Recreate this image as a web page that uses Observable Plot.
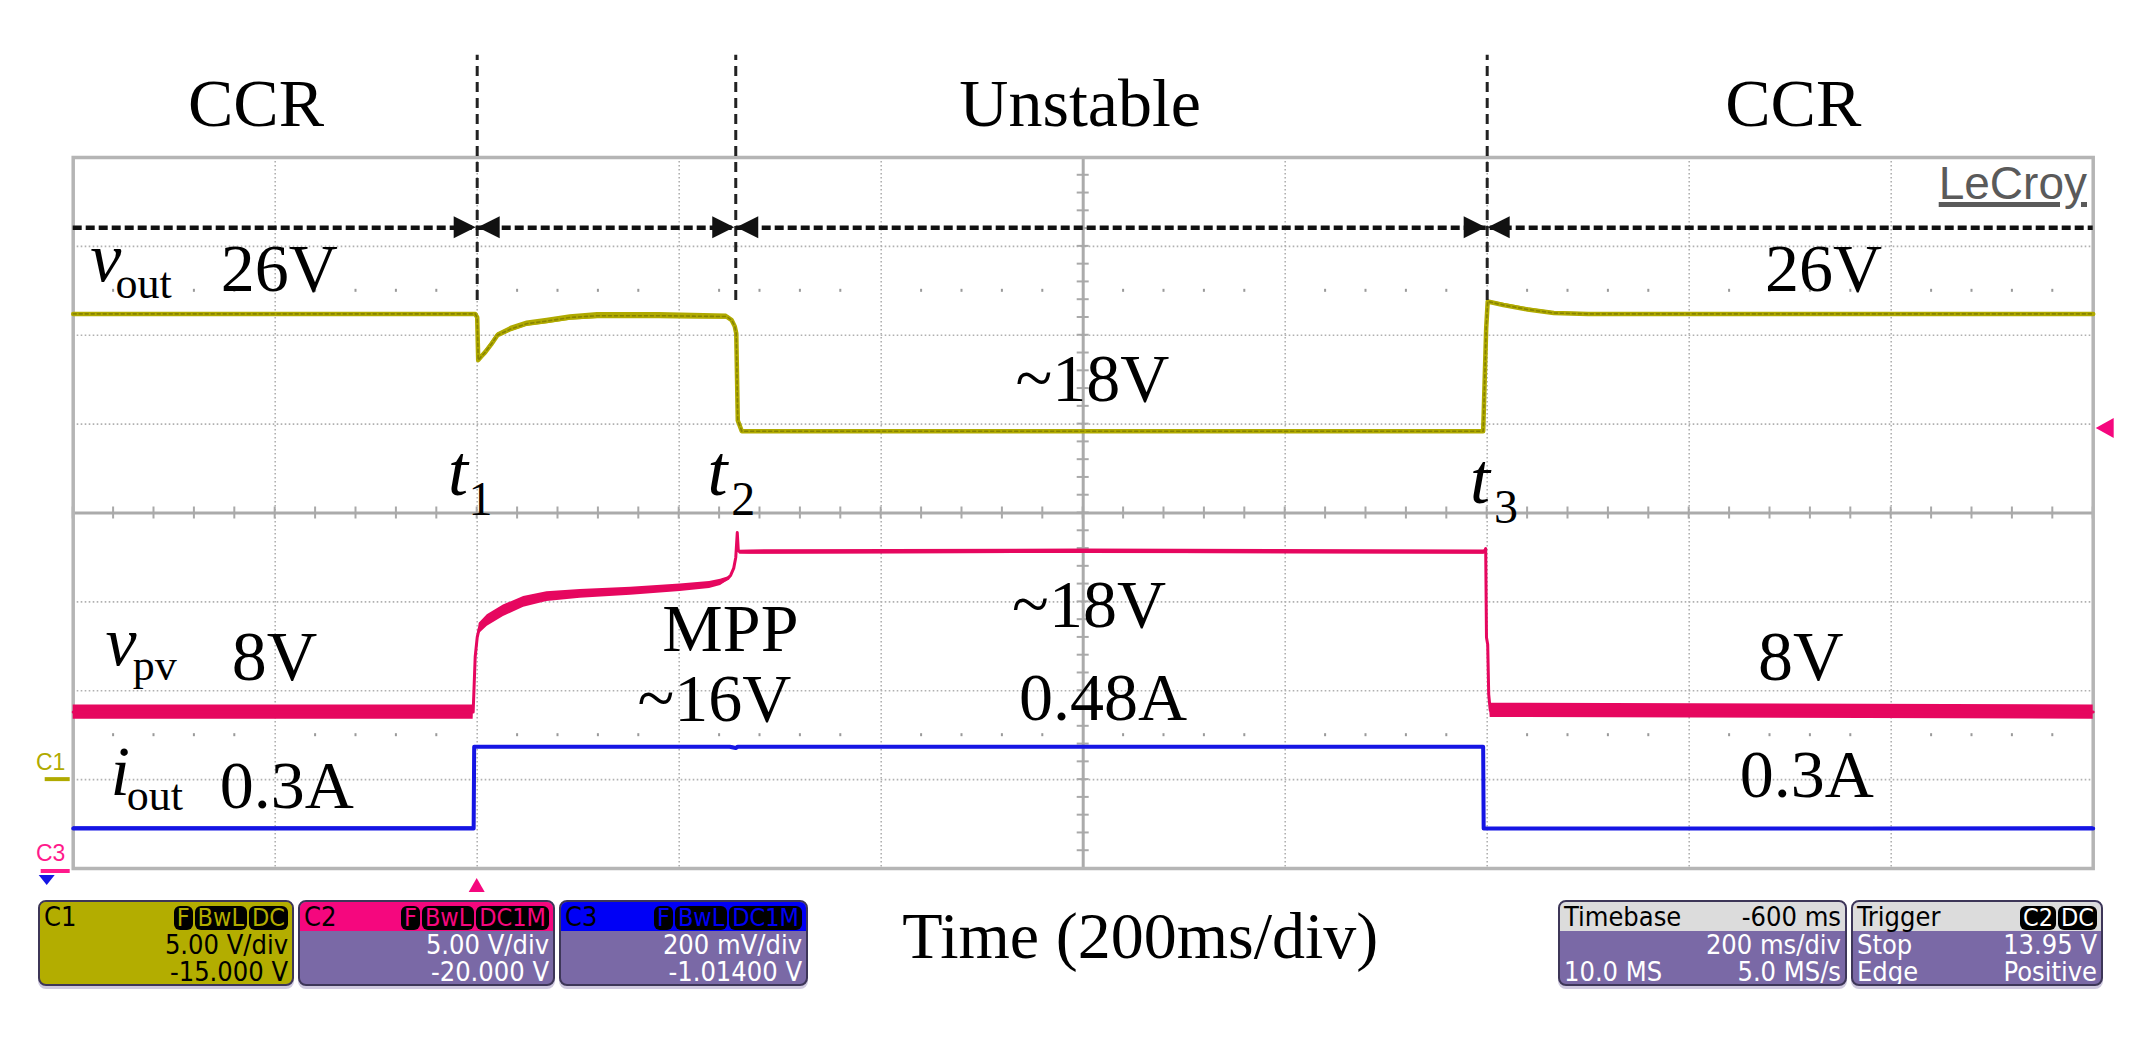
<!DOCTYPE html>
<html><head><meta charset="utf-8">
<script src="https://cdn.jsdelivr.net/npm/d3@7"></script>
<script src="https://cdn.jsdelivr.net/npm/@observablehq/plot@0.6"></script>
<style>
html,body{margin:0;padding:0;background:#fff;}
#wrap{position:relative;width:2147px;height:1047px;overflow:hidden;background:#fff;}
#wrap svg{position:absolute;left:0;top:0;}
.box{position:absolute;top:900px;height:86px;border-radius:8px;border:2px solid #3d3658;box-sizing:border-box;overflow:hidden;
 font-family:"Liberation Sans Narrow","Arial Narrow","DejaVu Sans Condensed",sans-serif;font-size:27px;line-height:27px;background:#7a69a6;color:#fff;box-shadow:0 3px 0 #cfc9df;}
.hdr{height:29px;padding:0 4px;display:flex;justify-content:space-between;align-items:center;color:#000;}
.row{height:27px;padding:0 4px;display:flex;justify-content:space-between;align-items:center;}
.badge{background:#000;border-radius:6px;padding:0 3px;margin-left:2px;line-height:24px;font-size:25px;display:inline-block;}
#lecroy{position:absolute;right:60px;top:156px;font-family:"Liberation Sans Narrow","Liberation Sans",sans-serif;font-size:46px;color:#5a5a5a;
 text-decoration:underline;text-decoration-thickness:5px;text-underline-offset:3px;}
</style></head>
<body><div id="wrap"></div>
<script>
// ---------------- channel settings ----------------
const chanName = ["C1", "C2", "C3"];
const chanColor = ["#b0aa00", "#e6075f", "#1515e4"];
const chanHeader = ["#b3ad00", "#f5077e", "#0000f6"];
const chanVPerDiv = [5, 5, 0.2];
const chanOffsetV = [-15, -20, -1.014];
const chanScaleText = ["5.00 V/div", "5.00 V/div", "200 mV/div"];
const chanOffsetText = ["-15.000 V", "-20.000 V", "-1.01400 V"];
const chanBadges = [["F", "BwL", "DC"], ["F", "BwL", "DC1M"], ["F", "BwL", "DC1M"]];
const timebaseText = ["Timebase", "-600 ms", "200 ms/div", "10.0 MS", "5.0 MS/s"];
const triggerText = ["Trigger", "Stop", "13.95 V", "Edge", "Positive"];
const triggerBadges = ["C2", "DC"];

// ---------------- time axis (ms relative to trigger) ----------------
const timeDomain = [-400, 1600];
const msPerDiv = 200;
const eventT = [0, 256, 1000];
const eventName = ["1", "2", "3"];
const regionName = ["CCR", "Unstable", "CCR"];

// ---------------- traces ----------------
// C1: v_out (V)
const voutT = [-400, -2, 0, 1, 4, 8, 14, 20, 33, 49, 69, 92, 119, 180, 247, 252, 255, 256.5, 258, 262, 600, 996, 996.5, 999, 1000.5, 1016, 1040, 1066, 1100, 1600];
const voutV = [26.2, 26.2, 26.0, 23.6, 23.8, 24.05, 24.5, 25.0, 25.35, 25.65, 25.8, 26.0, 26.1, 26.1, 26.05, 25.85, 25.5, 25.1, 20.2, 19.6, 19.6, 19.6, 20.5, 25.4, 26.9, 26.7, 26.45, 26.25, 26.2, 26.2];
const voutN = [0.12, 0.12, 0, 0.1, 0.2, 0.25, 0.25, 0.25, 0.3, 0.3, 0.3, 0.3, 0.35, 0.35, 0.3, 0.1, 0, 0, 0, 0.12, 0.12, 0.12, 0, 0, 0.15, 0.2, 0.2, 0.15, 0.12, 0.12];
// C2: v_pv (V)
const vpvT = [-400, -4, -2, 0, 2, 10, 26, 46, 69, 102, 152, 201, 230, 241, 248, 251, 254, 256, 257.5, 258.5, 260, 270, 600, 997, 998.5, 999.3, 1000.5, 1001.5, 1003, 1600];
const vpvV = [8.8, 8.8, 11.9, 13.0, 13.5, 13.95, 14.5, 15.0, 15.3, 15.45, 15.6, 15.8, 15.95, 16.1, 16.3, 16.5, 16.9, 17.5, 18.9, 17.9, 17.8, 17.8, 17.85, 17.8, 18.0, 13.0, 12.6, 9.8, 8.9, 8.8];
const vpvN = [0.8, 0.8, 0, 0, 0.6, 0.65, 0.65, 0.6, 0.55, 0.5, 0.45, 0.42, 0.4, 0.35, 0.2, 0, 0, 0, 0, 0, 0.22, 0.25, 0.25, 0.25, 0, 0, 0, 0, 0.8, 0.8];
// C3: i_out (A)
const ioutT = [-400, -3.5, -3, 250, 256, 258, 996, 996.5, 1600];
const ioutA = [0.304, 0.304, 0.488, 0.488, 0.485, 0.488, 0.488, 0.304, 0.304];
const ioutN = [0.008, 0.008, 0, 0.006, 0.006, 0.006, 0.006, 0, 0.008];

// ---------------- graticule / markers ----------------
const gridT = d3.range(-400, 1601, msPerDiv);
const gridD = d3.range(-4, 4.01, 1);
const minorT = d3.range(-400, 1600.1, msPerDiv / 5);
const minorD = d3.range(-4, 4.001, 0.2);
const dotRowsD = [2.5, -2.5];
const arrowRowDiv = 3.21;          // dashed double-arrow row (div)
const eventLineSpanDiv = [2.39, 5.15];
const rightMarkerDiv = [0.95];

// ---------------- annotations (label, t ms, div, anchor, size, italic) ----------------
const annotations = [
  ["CCR", -219, 4.36, "middle", 68, 0],
  ["Unstable", 597, 4.35, "middle", 68, 0],
  ["CCR", 1303, 4.35, "middle", 68, 0],
  ["v", -383, 2.615, "start", 70, 1],
  ["out", -358, 2.42, "start", 44, 0],
  ["26V", -254, 2.50, "start", 68, 0],
  ["t", -29, 0.197, "start", 72, 1],
  ["1", -8.6, -0.017, "start", 48, 0],
  ["t", 228, 0.197, "start", 72, 1],
  ["2", 251.6, -0.017, "start", 48, 0],
  ["t", 983, 0.118, "start", 72, 1],
  ["3", 1006.8, -0.107, "start", 48, 0],
  ["~18V", 533, 1.265, "start", 68, 0],
  ["v", -368, -1.715, "start", 70, 1],
  ["pv", -341, -1.884, "start", 44, 0],
  ["8V", -243, -1.884, "start", 70, 0],
  ["i", -363, -3.178, "start", 70, 1],
  ["out", -347, -3.347, "start", 44, 0],
  ["0.3A", -255, -3.324, "start", 68, 0],
  ["MPP", 250.7, -1.55, "middle", 68, 0],
  ["~16V", 234.8, -2.345, "middle", 68, 0],
  ["~18V", 682, -1.288, "end", 68, 0],
  ["0.48A", 703, -2.334, "end", 68, 0],
  ["26V", 1275, 2.503, "start", 68, 0],
  ["8V", 1268, -1.884, "start", 70, 0],
  ["0.3A", 1250, -3.2, "start", 68, 0],
  ["Time (200ms/div)", 656.5, -5.011, "middle", 66, 0]
];

const serif = "'Liberation Serif','Times New Roman',serif";
const toDiv = (v, ch) => (v + chanOffsetV[ch]) / chanVPerDiv[ch];
const rows = (T, V, N, ch) => T.map((t, i) => ({t, d: toDiv(V[i], ch), lo: toDiv(V[i] - N[i] / 2, ch), hi: toDiv(V[i] + N[i] / 2, ch)}));
const traces = [rows(voutT, voutV, voutN, 0), rows(vpvT, vpvV, vpvN, 1), rows(ioutT, ioutA, ioutN, 2)];
const traceWidth = [4.5, 3, 4];

function graticuleTicks(index, scales) {
  const g = d3.create("svg:g").attr("stroke", "#a9a9a9").attr("stroke-width", 2);
  const xc = scales.x(600), yc = scales.y(0);
  for (const t of minorT) {
    const x = scales.x(t);
    g.append("line").attr("x1", x).attr("x2", x).attr("y1", yc - 6).attr("y2", yc + 6);
  }
  for (const d of minorD) {
    const y = scales.y(d);
    g.append("line").attr("x1", xc - 6).attr("x2", xc + 6).attr("y1", y).attr("y2", y);
  }
  const dots = d3.create("svg:g").attr("fill", "#9a9a9a").attr("stroke", "none");
  for (const d of dotRowsD) for (const t of minorT) {
    if (Math.abs(((t + 400) / msPerDiv) - Math.round((t + 400) / msPerDiv)) < 1e-6) continue;
    dots.append("rect").attr("x", scales.x(t) - 1).attr("y", scales.y(d) - 1.5).attr("width", 2).attr("height", 3);
  }
  g.node().appendChild(dots.node());
  return g.node();
}

function arrowHeads(index, scales) {
  const g = d3.create("svg:g").attr("fill", "#111");
  const y = scales.y(arrowRowDiv);
  for (const b of eventT) {
    const x = scales.x(b);
    g.append("path").attr("d", `M${x - 1},${y}l-22,-11v22z`);
    g.append("path").attr("d", `M${x + 1},${y}l22,-11v22z`);
  }
  return g.node();
}

function sideMarkers(index, scales, values, dim) {
  const g = d3.create("svg:g");
  const xl = dim.marginLeft, xr = dim.width - dim.marginRight, yb = dim.height - dim.marginBottom;
  const y1 = scales.y(toDiv(0, 0));
  g.append("line").attr("x1", xl - 28).attr("x2", xl - 3).attr("y1", y1).attr("y2", y1).attr("stroke", chanColor[0]).attr("stroke-width", 4);
  g.append("text").attr("x", xl - 22).attr("y", y1 - 9).attr("text-anchor", "middle").attr("fill", chanColor[0])
    .attr("font-family", "'Liberation Sans Narrow','Liberation Sans',sans-serif").attr("font-size", 23).text("C1");
  const y2 = Math.min(scales.y(toDiv(0, 1)), yb) + 3;
  g.append("text").attr("x", xl - 22).attr("y", y2 - 10).attr("text-anchor", "middle").attr("fill", "#ff1a8c")
    .attr("font-family", "'Liberation Sans Narrow','Liberation Sans',sans-serif").attr("font-size", 23).text("C3");
  g.append("path").attr("d", `M${xl - 34},${y2 + 4}l8,10l8,-10z`).attr("fill", chanColor[2]);
  g.append("line").attr("x1", xl - 32).attr("x2", xl - 3).attr("y1", y2).attr("y2", y2).attr("stroke", "#ff1a8c").attr("stroke-width", 4);
  const xt = scales.x(0);
  g.append("path").attr("d", `M${xt},${yb + 10}l-8,14h16z`).attr("fill", "#f5077e");
  for (const d of rightMarkerDiv) {
    const y = scales.y(d);
    g.append("path").attr("d", `M${xr + 3},${y}l18,-10v20z`).attr("fill", "#f5077e");
  }
  return g.node();
}

const marks = [
  Plot.ruleX(gridT.slice(1, -1).filter(t => t !== 600), {stroke: "#b0b0b0", strokeWidth: 1.6, strokeDasharray: "1.6,2.4"}),
  Plot.ruleY(gridD.slice(1, -1).filter(d => d !== 0), {stroke: "#b0b0b0", strokeWidth: 1.6, strokeDasharray: "1.6,2.4"}),
  Plot.ruleX([600], {stroke: "#ababab", strokeWidth: 3}),
  Plot.ruleY([0], {stroke: "#ababab", strokeWidth: 3}),
  graticuleTicks,
  Plot.frame({stroke: "#b5b5b5", strokeWidth: 3.5}),
];
traces.forEach((tr, ch) => {
  marks.push(Plot.areaY(tr, {x: "t", y1: "lo", y2: "hi", fill: chanColor[ch], curve: "linear"}));
  marks.push(Plot.line(tr, {x: "t", y: "d", stroke: chanColor[ch], strokeWidth: traceWidth[ch], curve: "linear"}));
});
// darker sample texture along the C1 trace, as the scope draws it
marks.push(Plot.line(traces[0], {x: "t", y: "d", stroke: "#7a7600", strokeWidth: 1.6, strokeDasharray: "3,3", strokeOpacity: 0.75}));
marks.push(
  Plot.ruleX(eventT, {y1: eventLineSpanDiv[0], y2: eventLineSpanDiv[1], stroke: "#222", strokeWidth: 3, strokeDasharray: "10,6"}),
  Plot.ruleY([arrowRowDiv], {x1: timeDomain[0], x2: timeDomain[1], stroke: "#111", strokeWidth: 4.5, strokeDasharray: "9,4"}),
  arrowHeads,
  sideMarkers
);
for (const [s, t, d, anchor, size, it] of annotations) {
  marks.push(Plot.text([{t, d, s}], {x: "t", y: "d", text: "s", textAnchor: anchor, lineAnchor: "bottom",
    fontSize: size, fontFamily: serif, fontStyle: it ? "italic" : "normal", fill: "#000"}));
}

const chart = Plot.plot({
  width: 2147, height: 1047,
  marginLeft: 72.7, marginRight: 54.3, marginTop: 157, marginBottom: 179,
  x: {domain: timeDomain, axis: null},
  y: {domain: [-4, 4], axis: null},
  style: {background: "white", overflow: "visible"},
  marks
});
const wrap = document.getElementById("wrap");
wrap.appendChild(chart);

// ---------------- LeCroy logo and info boxes (HTML) ----------------
const lc = document.createElement("div"); lc.id = "lecroy"; lc.textContent = "LeCroy"; wrap.appendChild(lc);

function badgeHTML(list, color) {
  return list.map(b => `<span class="badge" style="color:${color}">${b}</span>`).join("");
}
const boxLeft = [38, 298, 559];
const boxWidth = [256, 257, 249];
chanName.forEach((n, i) => {
  const b = document.createElement("div");
  b.className = "box";
  b.style.left = boxLeft[i] + "px"; b.style.width = boxWidth[i] + "px";
  if (i === 0) { b.style.background = chanHeader[0]; b.style.color = "#000"; }
  b.innerHTML = `<div class="hdr" style="background:${chanHeader[i]}"><span>${n}</span><span>${badgeHTML(chanBadges[i], chanHeader[i])}</span></div>
   <div class="row"><span></span><span>${chanScaleText[i]}</span></div>
   <div class="row"><span></span><span>${chanOffsetText[i]}</span></div>`;
  wrap.appendChild(b);
});
const tb = document.createElement("div");
tb.className = "box"; tb.style.left = "1558px"; tb.style.width = "289px";
tb.innerHTML = `<div class="hdr" style="background:#dcdcdc"><span>${timebaseText[0]}</span><span>${timebaseText[1]}</span></div>
 <div class="row"><span></span><span>${timebaseText[2]}</span></div>
 <div class="row"><span>${timebaseText[3]}</span><span>${timebaseText[4]}</span></div>`;
wrap.appendChild(tb);
const tg = document.createElement("div");
tg.className = "box"; tg.style.left = "1851px"; tg.style.width = "252px";
tg.innerHTML = `<div class="hdr" style="background:#dcdcdc"><span>${triggerText[0]}</span><span>${badgeHTML(triggerBadges, "#fff")}</span></div>
 <div class="row"><span>${triggerText[1]}</span><span>${triggerText[2]}</span></div>
 <div class="row"><span>${triggerText[3]}</span><span>${triggerText[4]}</span></div>`;
wrap.appendChild(tg);
</script>
</body></html>
